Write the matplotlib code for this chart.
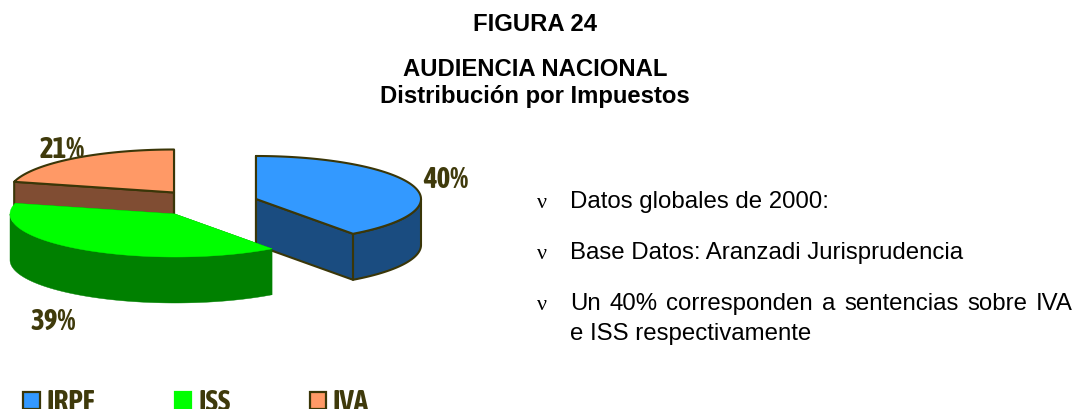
import logging
import numpy as np
import matplotlib
matplotlib.use("Agg")
import matplotlib.pyplot as plt
from matplotlib.patches import Polygon, Rectangle

logging.getLogger("matplotlib.font_manager").setLevel(logging.ERROR)

categories = ["IRPF", "ISS", "IVA"]
values = [40, 39, 21]
value_labels = ["40%", "39%", "21%"]
title_top = "FIGURA 24"
title_lines = ["AUDIENCIA NACIONAL", "Distribución por Impuestos"]
notes = ["Datos globales de 2000:", "Base Datos: Aranzadi Jurisprudencia"]
justified_words = ["Un", "40%", "corresponden", "a", "sentencias", "sobre", "IVA"]
last_line = "e ISS respectivamente"

top_colors = ["#3399FF", "#00FF00", "#FF9966"]
side_colors = ["#1A4C80", "#008000", "#804D33"]
edge_colors = ["#3A3608", None, "#3A3608"]
centers = [(256, 200), (175, 215), (174, 193.5)]
RX, RY, DEPTH = 165, 43, 46
INK = "#3F3A0B"
NARROW = ["Asap Condensed", "Archivo Narrow", "Liberation Sans Narrow", "Liberation Sans"]
SANS = ["Liberation Sans", "DejaVu Sans"]

fig = plt.figure(figsize=(10.76, 4.10), dpi=100, facecolor="white")
ax = fig.add_axes([0, 0, 1, 1])
ax.set_xlim(0, 1076)
ax.set_ylim(410, 0)
ax.axis("off")


def pts(c, a, dy=0.0):
    a = np.asarray(a)
    return np.column_stack([c[0] + RX * np.sin(a), c[1] - RY * np.cos(a) + dy])


def add(xy, face, edge, z):
    ax.add_patch(Polygon(xy, closed=True, facecolor=face,
                         edgecolor=edge if edge else face,
                         linewidth=1.5 if edge else 0.3, joinstyle="round", zorder=z))


fractions = np.cumsum([0] + values) / sum(values) * 2 * np.pi
order = [2, 0, 1]
for z, i in enumerate(order):
    a0, a1 = fractions[i], fractions[i + 1]
    c = centers[i]
    arc = np.linspace(a0, a1, 160)
    center = np.array([c])
    base = 10 * (z + 1)
    lo, hi = max(a0, np.pi / 2), min(a1, 3 * np.pi / 2)
    if lo < hi:
        wall = np.linspace(lo, hi, 120)
        add(np.vstack([pts(c, wall), pts(c, wall[::-1], DEPTH)]),
            side_colors[i], edge_colors[i], base)
    for a in (a0, a1):
        tip = pts(c, [a])
        add(np.vstack([center, tip, tip + [0, DEPTH], center + [0, DEPTH]]),
            side_colors[i], edge_colors[i], base + 1)
    add(np.vstack([center, pts(c, arc)]), top_colors[i], edge_colors[i], base + 2)

LABEL_SIZE = 21
label_xy = [(423, 188), (30, 330), (40, 158)]
for (x, y), s in zip(label_xy, value_labels):
    ax.text(x, y, s, family=NARROW, fontweight="bold", fontsize=LABEL_SIZE,
            color=INK, ha="left", va="baseline", zorder=60)

legend_box = [(23, 393), (174.5, 393), (309.5, 393)]
legend_text = [(47, 411), (198, 411), (333, 411)]
for i, cat in enumerate(categories):
    x, y = legend_box[i]
    ax.add_patch(Rectangle((x, y), 16.5, 16.5, facecolor=top_colors[i],
                           edgecolor=edge_colors[i] if edge_colors[i] else top_colors[i],
                           linewidth=1.6, zorder=60))
    ax.text(*legend_text[i], cat, family=NARROW, fontweight="bold", fontsize=LABEL_SIZE,
            color=INK, ha="left", va="baseline", zorder=60)

TITLE_SIZE = 17.2
ax.text(535, 31, title_top, family=SANS, fontweight="bold", fontsize=TITLE_SIZE,
        ha="center", va="baseline", color="black")
for y, s in zip((76, 103), title_lines):
    ax.text(535, y, s, family=SANS, fontweight="bold", fontsize=TITLE_SIZE,
            ha="center", va="baseline", color="black")

NOTE_SIZE = 17.3
for y in (208, 259, 310):
    ax.text(537, y, "ν", family=["Liberation Serif"], fontsize=16,
            ha="left", va="baseline", color="black")
for y, s in zip((208, 259), notes):
    ax.text(570, y, s, family=SANS, fontsize=NOTE_SIZE, ha="left", va="baseline", color="black")

fig.canvas.draw()
r = fig.canvas.get_renderer()
x0, x1 = 570, 1073
widths = []
handles = []
for w in justified_words:
    t = ax.text(0, 310, w, family=SANS, fontsize=NOTE_SIZE, ha="left", va="baseline", color="black")
    handles.append(t)
    widths.append(t.get_window_extent(r).width)
gap = (x1 - x0 - sum(widths)) / (len(widths) - 1)
x = x0
for t, wd in zip(handles, widths):
    t.set_x(x)
    x += wd + gap
ax.text(570, 340, last_line, family=SANS, fontsize=NOTE_SIZE, ha="left", va="baseline", color="black")

fig.savefig("out.png", dpi=100, facecolor="white")
